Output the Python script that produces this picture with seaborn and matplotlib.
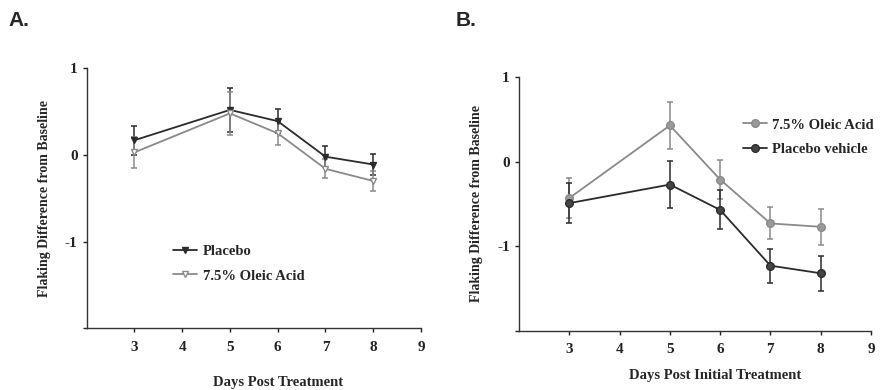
import numpy as np
import pandas as pd
import matplotlib
matplotlib.use("Agg")
import matplotlib.pyplot as plt
import seaborn as sns

# ---- data ----
days = [3, 5, 6, 7, 8]

# Panel A
a_placebo = [0.17, 0.52, 0.39, -0.02, -0.11]
a_placebo_err = [0.17, 0.25, 0.14, 0.12, 0.12]
a_oleic = [0.03, 0.48, 0.25, -0.16, -0.30]
a_oleic_err = [0.18, 0.25, 0.14, 0.11, 0.11]

# Panel B
b_oleic = [-0.43, 0.43, -0.21, -0.73, -0.77]
b_oleic_err = [0.24, 0.28, 0.23, 0.19, 0.21]
b_placebo = [-0.49, -0.27, -0.57, -1.23, -1.32]
b_placebo_err = [0.24, 0.28, 0.23, 0.20, 0.21]

x_ticks = [3, 4, 5, 6, 7, 8, 9]
y_ticks = [-2, -1, 0, 1]
y_ticklabels = ["", "-1", "0", "1"]

sns.set_style("ticks")
plt.rcParams["font.family"] = ["Liberation Serif", "DejaVu Serif"]
plt.rcParams["font.weight"] = "bold"

DARK = "#2b2b2b"
GREY = "#8a8a8a"

fig = plt.figure(figsize=(8.8, 3.9), dpi=100)
W, H = 880, 390
axA = fig.add_axes([86.7 / W, 1 - 328.3 / H, (421 - 86.7) / W, (328.3 - 68.3) / H])
axB = fig.add_axes([519 / W, 1 - 330.7 / H, (871 - 519) / W, (330.7 - 77.3) / H])


def draw(ax, series, legend_loc):
    for label, vals, errs, color, mfc, marker, ms in series:
        df = pd.DataFrame({"day": days, "val": vals})
        ax.errorbar(days, vals, yerr=errs, fmt="none", ecolor=color,
                    elinewidth=1.1, capsize=2.2, capthick=1.1, zorder=2)
        sns.lineplot(data=df, x="day", y="val", ax=ax, color=color,
                     linewidth=1.3, marker=marker, markersize=ms,
                     markerfacecolor=mfc, markeredgecolor=color,
                     markeredgewidth=1.0, label=label, zorder=3)
    ax.set_xlim(2, 9)
    ax.set_ylim(-2, 1)
    ax.set_xticks(x_ticks)
    ax.set_yticks(y_ticks)
    ax.set_yticklabels(y_ticklabels)
    ax.tick_params(axis="both", labelsize=11, length=3, width=1, direction="out",
                   colors="#222222")
    ax.tick_params(axis="x", pad=6)
    for lbl in ax.get_xticklabels() + ax.get_yticklabels():
        lbl.set_fontweight("bold")
    for side in ["top", "right"]:
        ax.spines[side].set_visible(False)
    for side in ["left", "bottom"]:
        ax.spines[side].set_color("#333333")
        ax.spines[side].set_linewidth(1.0)
    ax.set_ylabel("Flaking Difference from Baseline", fontsize=10,
                  fontweight="bold", labelpad=10)
    leg = ax.legend(loc=legend_loc[0], bbox_to_anchor=legend_loc[1], frameon=False,
                    prop={"size": 10.5, "weight": "bold"}, handlelength=1.6,
                    handletextpad=0.4, labelspacing=0.75)
    return leg


draw(axA, [
    ("Placebo", a_placebo, a_placebo_err, DARK, DARK, "v", 5),
    ("7.5% Oleic Acid", a_oleic, a_oleic_err, GREY, "white", "v", 5),
], ("upper left", (0.22, 0.37)))
axA.set_xlabel("Days Post Treatment", fontsize=10.5, fontweight="bold")
axA.xaxis.set_label_coords(0.572, -0.207)
axA.xaxis.label.set_va("center")

draw(axB, [
    ("7.5% Oleic Acid", b_oleic, b_oleic_err, GREY, "#9a9a9a", "o", 5.5),
    ("Placebo vehicle", b_placebo, b_placebo_err, DARK, "#444444", "o", 5.5),
], ("upper left", (0.6, 0.89)))
axB.set_xlabel("Days Post Initial Treatment", fontsize=10.5, fontweight="bold")
axB.xaxis.set_label_coords(0.557, -0.175)
axB.xaxis.label.set_va("center")

fig.text(8 / W, 1 - 20 / H, "A.", fontsize=15, fontweight="bold",
         family=["Liberation Sans", "DejaVu Sans"], va="center", ha="left")
fig.text(456 / W, 1 - 20 / H, "B.", fontsize=15, fontweight="bold",
         family=["Liberation Sans", "DejaVu Sans"], va="center", ha="left")

fig.savefig("out.png", dpi=100)
